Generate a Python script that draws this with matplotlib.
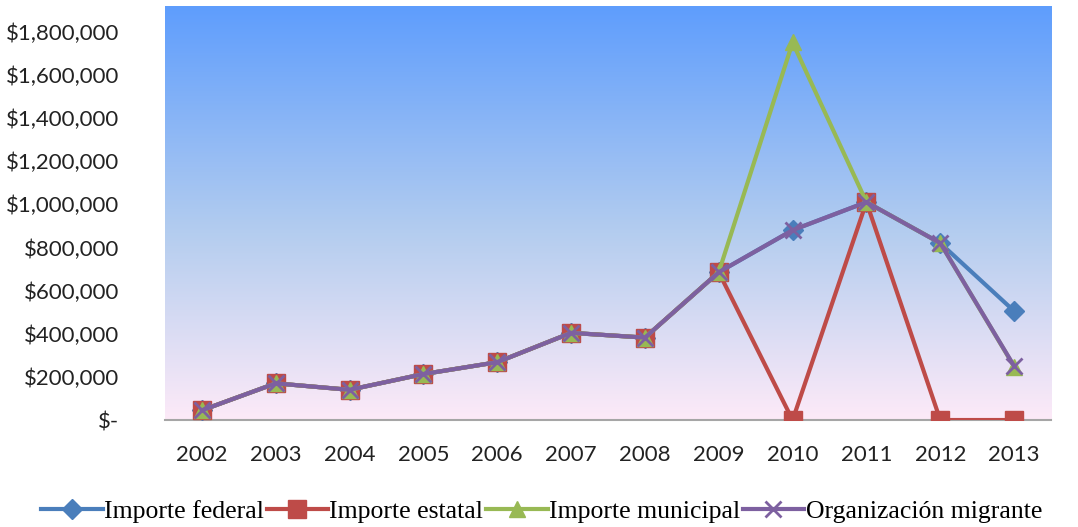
import numpy as np
import matplotlib.pyplot as plt
from matplotlib.colors import LinearSegmentedColormap

years = ['2002', '2003', '2004', '2005', '2006', '2007', '2008',
         '2009', '2010', '2011', '2012', '2013']

federal = [45000, 170000, 140000, 213000, 268000, 404000, 382000,
           685000, 880000, 1010000, 820000, 505000]
estatal = [45000, 170000, 140000, 213000, 268000, 404000, 382000,
           685000, 0, 1010000, 0, 0]
municipal = [45000, 170000, 140000, 213000, 268000, 404000, 382000,
             685000, 1750000, 1010000, 820000, 248000]
migrante = [45000, 170000, 140000, 213000, 268000, 404000, 382000,
            685000, 880000, 1010000, 820000, 250000]

fig = plt.figure(figsize=(10.78, 5.27), dpi=100)
ax = fig.add_axes([0.153, 0.203, 0.822, 0.786])

# gradient background
cmap = LinearSegmentedColormap.from_list(
    'bg', [(0.0, '#fdeaf8'), (0.45, '#b4cdef'), (1.0, '#5e9dfd')])
grad = np.linspace(0, 1, 256).reshape(-1, 1)
ax.imshow(grad, aspect='auto', cmap=cmap, origin='lower',
          extent=[0, 1, 0, 1], transform=ax.transAxes, zorder=0)

x = np.arange(len(years))
lw = 3
ax.plot(x, federal, color='#4a7ebb', lw=lw, marker='D', ms=10,
        label='Importe federal', zorder=3)
ax.plot(x, estatal, color='#be4b48', lw=lw, marker='s', ms=13,
        label='Importe estatal', zorder=3)
ax.plot(x, municipal, color='#98b954', lw=lw, marker='^', ms=12,
        label='Importe municipal', zorder=3)
ax.plot(x, migrante, color='#7d60a0', lw=lw, marker='x', ms=11, mew=2,
        label='Organización migrante', zorder=4)

ax.set_xlim(-0.5, len(years) - 0.5)
ax.set_ylim(0, 1920000)
ax.set_yticks(np.arange(0, 1800001, 200000))
ax.set_yticklabels(['$-'] + ['${:,.0f}'.format(v) for v in np.arange(200000, 1800001, 200000)])
ax.set_xticks(x)
ax.set_xticklabels(years)

for s in ['top', 'right', 'left']:
    ax.spines[s].set_visible(False)
ax.spines['bottom'].set_color('#a6a6a6')
ax.spines['bottom'].set_linewidth(1.5)
ax.tick_params(length=0, labelsize=16, colors='#222222', labelfontfamily='Lato')
ax.tick_params(axis='x', pad=18)
ax.tick_params(axis='y', pad=33)

ax.legend(loc='lower center', bbox_to_anchor=(0.425, -0.305), ncol=4,
          frameon=False, prop={'family': 'Liberation Serif', 'size': 18.5},
          handlelength=2.4, handletextpad=0.05, columnspacing=0.1)

fig.savefig('out.png', dpi=100)
